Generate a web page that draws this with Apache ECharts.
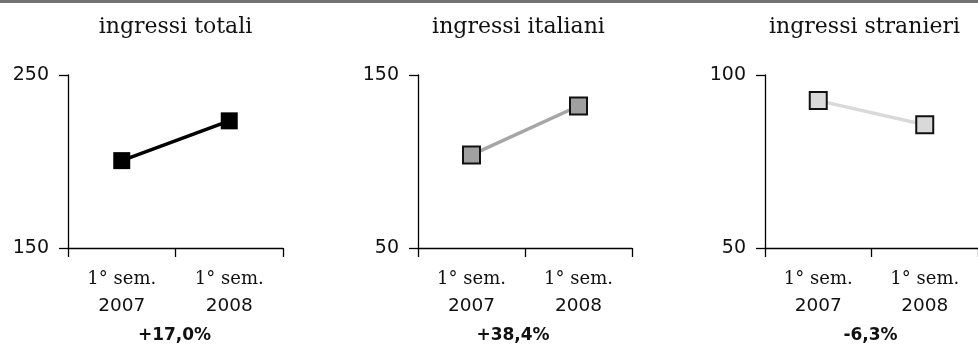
<!DOCTYPE html>
<html>
<head>
<meta charset="utf-8">
<script src="https://cdn.jsdelivr.net/npm/echarts@6/dist/echarts.min.js"></script>
<style>
  html, body { margin: 0; padding: 0; background: #fff; }
  #band { position: absolute; left: 0; top: 0; width: 978px; height: 3px; background: #737373; }
  #chart { position: absolute; left: 0; top: 0; width: 978px; height: 359px; }
</style>
</head>
<body>
<div id="chart"></div>
<div id="band"></div>
<script>
// Periods on the x axis (same for all three panels)
const periods = ['1° sem.\n2007', '1° sem.\n2008'];

// Panel titles and the change shown under each panel
const panelTitles = ['ingressi totali', 'ingressi italiani', 'ingressi stranieri'];
const changeLabels = ['+17,0%', '+38,4%', '-6,3%'];

// Values per panel
const totali = [200.5, 223.5];
const italiani = [103.8, 132.1];
const stranieri = [92.6, 85.6];

// Y axis ranges and tick labels per panel
const axisMin = [150, 50, 50];
const axisMax = [250, 150, 100];
const yTicks = [[150, 250], [50, 150], [50, 100]];

const seriesValues = [totali, italiani, stranieri];

// Panel geometry and styles
const grids = [
  { left: 68, top: 75, width: 215, height: 173 },
  { left: 418, top: 75, width: 214, height: 173 },
  { left: 765, top: 75, width: 213, height: 173 }
];
const lineColors = ['#000000', '#a6a6a6', '#d9d9d9'];
const markerFill = ['#000000', '#a0a0a0', '#d9d9d9'];
const titleX = [175.5, 518.5, 864.5];
const changeX = [174.5, 513, 870.5];

const SANS = 'DejaVu Sans';
const SERIF = 'DejaVu Serif';

const chart = echarts.init(document.getElementById('chart'), null, { renderer: 'canvas' });

const xAxes = grids.map((g, i) => ({
  type: 'category',
  gridIndex: i,
  data: periods,
  boundaryGap: true,
  axisLine: { lineStyle: { color: '#000', width: 1.3 } },
  axisTick: { show: true, length: 9, lineStyle: { color: '#000', width: 1.3 } },
  axisLabel: {
    margin: 18,
    formatter: (v) => {
      const parts = v.split('\n');
      return '{a|' + parts[0] + '}\n{b|' + parts[1] + '}';
    },
    rich: {
      a: { fontFamily: SERIF, fontSize: 18, color: '#111', lineHeight: 27 },
      b: { fontFamily: SANS, fontSize: 18.5, color: '#111', lineHeight: 27 }
    }
  },
  splitLine: { show: false }
}));

const yAxes = grids.map((g, i) => ({
  type: 'value',
  gridIndex: i,
  min: axisMin[i],
  max: axisMax[i],
  axisLine: { show: true, lineStyle: { color: '#000', width: 1.3 } },
  axisTick: { show: true, length: 9, customValues: yTicks[i], lineStyle: { color: '#000', width: 1.3 } },
  axisLabel: {
    customValues: yTicks[i],
    margin: 19,
    fontFamily: SANS,
    fontSize: 19,
    color: '#111'
  },
  splitLine: { show: false }
}));

const series = seriesValues.map((vals, i) => ({
  type: 'line',
  xAxisIndex: i,
  yAxisIndex: i,
  data: vals,
  symbol: 'rect',
  symbolSize: 17,
  lineStyle: { color: lineColors[i], width: 3.5 },
  itemStyle: { color: markerFill[i], borderColor: '#111', borderWidth: i === 0 ? 0 : 2 },
  emphasis: { disabled: true },
  animation: false,
  z: 3
}));

const graphics = [];
panelTitles.forEach((t, i) => {
  graphics.push({
    type: 'text',
    x: titleX[i], y: 27,
    style: {
      text: t, fontFamily: SERIF, fontSize: 22, fill: '#111',
      textAlign: 'center', textVerticalAlign: 'middle'
    }
  });
});
changeLabels.forEach((t, i) => {
  graphics.push({
    type: 'text',
    x: changeX[i], y: 336,
    style: {
      text: t, fontFamily: SANS, fontSize: 17, fontWeight: 'bold', fill: '#111',
      textAlign: 'center', textVerticalAlign: 'middle'
    }
  });
});

chart.setOption({
  animation: false,
  grid: grids,
  xAxis: xAxes,
  yAxis: yAxes,
  series: series,
  graphic: graphics
});
</script>
</body>
</html>
